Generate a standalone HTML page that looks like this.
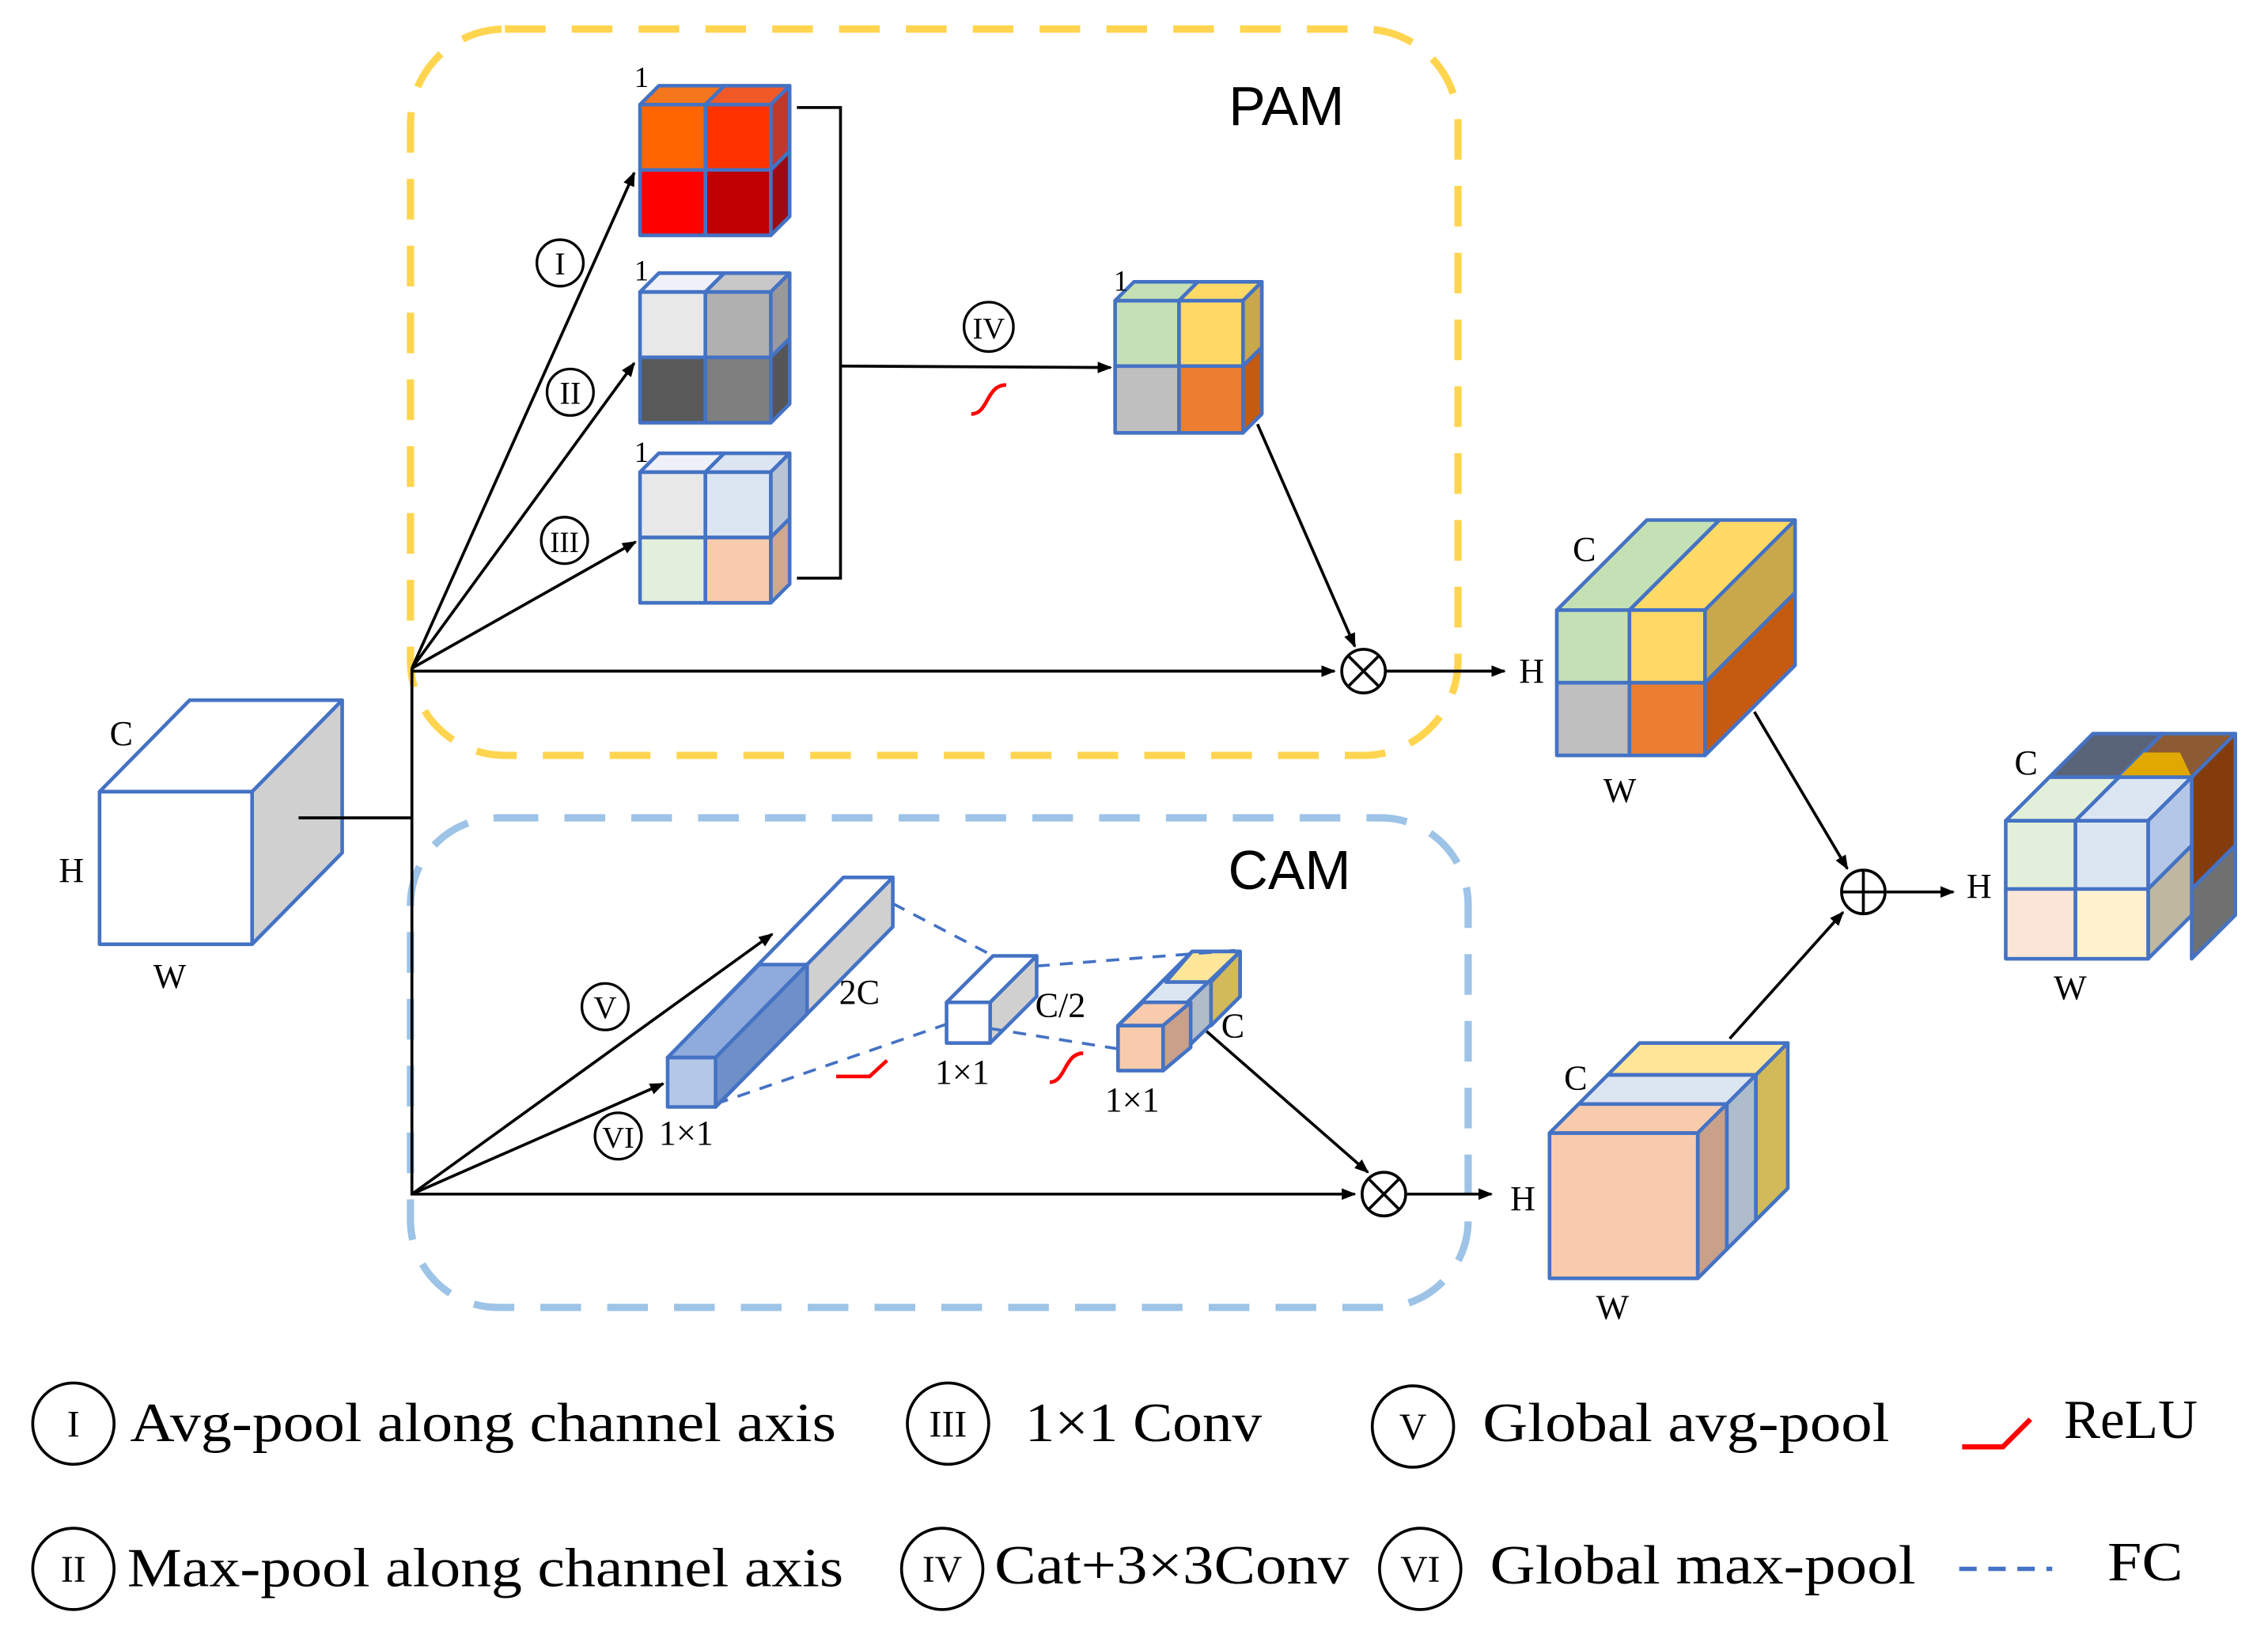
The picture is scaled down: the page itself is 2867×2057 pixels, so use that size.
<!DOCTYPE html>
<html><head><meta charset="utf-8"><style>
html,body{margin:0;padding:0;background:#fff;}
svg{display:block;}
.s{font-family:"Liberation Serif",serif;fill:#000;}
.n{font-family:"Liberation Sans",sans-serif;fill:#000;}
</style></head><body>
<svg width="2867" height="2057" viewBox="0 0 1560 1120" xmlns="http://www.w3.org/2000/svg">
<defs>
<marker id="a" markerWidth="10" markerHeight="10" refX="9" refY="5" orient="auto" markerUnits="userSpaceOnUse"><path d="M0,1 L10,5 L0,9 z" fill="#000"/></marker>
</defs>
<rect width="1560" height="1120" fill="#fff"/>
<rect x="282" y="20" width="721" height="500" rx="65" fill="none" stroke="#FFD54F" stroke-width="5" stroke-dasharray="28,18"/>
<rect x="282" y="563" width="728" height="337" rx="60" fill="none" stroke="#9DC3E6" stroke-width="5" stroke-dasharray="28,18"/>
<text x="885" y="86" class="n" font-size="38" text-anchor="middle">PAM</text>
<text x="887" y="612" class="n" font-size="38" text-anchor="middle">CAM</text>

<g stroke="#4472C4" stroke-width="2.5" stroke-linejoin="round">
<polygon points="68,545 130,482 235,482 173,545" fill="#fff"/>
<polygon points="173,545 235,482 235,587 173,650" fill="#D0D0D0"/>
<rect x="68" y="545" width="105" height="105" fill="#fff"/>

<polygon points="440,72 453,59 498,59 485,72" fill="#F4771E"/>
<polygon points="485,72 498,59 543,59 530,72" fill="#F05A28"/>
<polygon points="530,72 543,59 543,104 530,117" fill="#C0392B"/>
<polygon points="530,117 543,104 543,149 530,162" fill="#9E0B0F"/>
<rect x="440" y="72" width="45" height="45" fill="#FF6600"/>
<rect x="485" y="72" width="45" height="45" fill="#FF3300"/>
<rect x="440" y="117" width="45" height="45" fill="#FF0000"/>
<rect x="485" y="117" width="45" height="45" fill="#C00000"/>
<polygon points="440,201 453,188 498,188 485,201" fill="#EEF2F8"/>
<polygon points="485,201 498,188 543,188 530,201" fill="#C8C8C8"/>
<polygon points="530,201 543,188 543,233 530,246" fill="#999"/>
<polygon points="530,246 543,233 543,278 530,291" fill="#555"/>
<rect x="440" y="201" width="45" height="45" fill="#E8E8E8"/>
<rect x="485" y="201" width="45" height="45" fill="#B0B0B0"/>
<rect x="440" y="246" width="45" height="45" fill="#595959"/>
<rect x="485" y="246" width="45" height="45" fill="#7F7F7F"/>
<polygon points="440,325 453,312 498,312 485,325" fill="#EEF2F8"/>
<polygon points="485,325 498,312 543,312 530,325" fill="#DCE6F2"/>
<polygon points="530,325 543,312 543,357 530,370" fill="#B8C4D4"/>
<polygon points="530,370 543,357 543,402 530,415" fill="#D0A88C"/>
<rect x="440" y="325" width="45" height="45" fill="#E8E8E8"/>
<rect x="485" y="325" width="45" height="45" fill="#DCE6F2"/>
<rect x="440" y="370" width="45" height="45" fill="#E2EFDA"/>
<rect x="485" y="370" width="45" height="45" fill="#F8CBAD"/>
<polygon points="767,207 780,194 824,194 811,207" fill="#C5E0B4"/>
<polygon points="811,207 824,194 868,194 855,207" fill="#FFD966"/>
<polygon points="855,207 868,194 868,239 855,252" fill="#C9A84B"/>
<polygon points="855,252 868,239 868,285 855,298" fill="#C55A11"/>
<rect x="767" y="207" width="44" height="45" fill="#C5E0B4"/>
<rect x="811" y="207" width="44" height="45" fill="#FFD966"/>
<rect x="767" y="252" width="44" height="46" fill="#BFBFBF"/>
<rect x="811" y="252" width="44" height="46" fill="#ED7D31"/>

<polygon points="1071,420 1133,358 1183,358 1121,420" fill="#C5E0B4"/>
<polygon points="1121,420 1183,358 1235,358 1173,420" fill="#FFD966"/>
<polygon points="1173,420 1235,358 1235,408 1173,470" fill="#C9A84B"/>
<polygon points="1173,470 1235,408 1235,458 1173,520" fill="#C55A11"/>
<rect x="1071" y="420" width="50" height="50" fill="#C5E0B4"/>
<rect x="1121" y="420" width="52" height="50" fill="#FFD966"/>
<rect x="1071" y="470" width="50" height="50" fill="#BFBFBF"/>
<rect x="1121" y="470" width="52" height="50" fill="#ED7D31"/>

<polygon points="1410,535 1440,505 1488,505 1458,535" fill="#5A6478"/>
<polygon points="1458,535 1488,505 1538,505 1508,535" fill="#8C5A33"/>
<polygon points="1458,535 1475,518 1500,518 1508,535" fill="#E0A800" stroke="none"/>
<polygon points="1380,565 1410,535 1458,535 1428,565" fill="#E2EFDA"/>
<polygon points="1428,565 1458,535 1508,535 1478,565" fill="#DCE6F2"/>
<polygon points="1508,535 1538,505 1538,582 1508,612" fill="#843C0C"/>
<polygon points="1508,612 1538,582 1538,630 1508,660" fill="#707070"/>
<polygon points="1478,565 1508,535 1508,582 1478,612" fill="#B4C7E7"/>
<polygon points="1478,612 1508,582 1508,630 1478,660" fill="#BFB7A0"/>
<rect x="1380" y="565" width="48" height="47" fill="#E2EFDA"/>
<rect x="1428" y="565" width="50" height="47" fill="#DCE6F2"/>
<rect x="1380" y="612" width="48" height="48" fill="#FBE5D6"/>
<rect x="1428" y="612" width="50" height="48" fill="#FFF2CC"/>

<polygon points="1106,740 1128,718 1230,718 1208,740" fill="#FFE699"/>
<polygon points="1208,740 1230,718 1230,818 1208,840" fill="#D2B95A"/>
<rect x="1106" y="740" width="102" height="100" fill="#FFE699"/>
<polygon points="1086,760 1106,740 1208,740 1188,760" fill="#DCE6F2"/>
<polygon points="1188,760 1208,740 1208,840 1188,860" fill="#AEBCCB"/>
<polygon points="1066,780 1086,760 1188,760 1168,780" fill="#F8CBAD"/>
<polygon points="1168,780 1188,760 1188,860 1168,880" fill="#C9A08A"/>
<rect x="1066" y="780" width="102" height="100" fill="#F8CBAD"/>

<polygon points="459,728 580,604 614,604 492,728" fill="#fff"/>
<polygon points="492,728 614,604 614,638 492,762" fill="#D0D0D0"/>
<polygon points="459,728 522,664 555,664 492,728" fill="#8FAADC"/>
<polygon points="492,728 555,664 555,698 492,762" fill="#6F8FC8"/>
<rect x="459" y="728" width="33" height="34" fill="#B4C7E7"/>
<polygon points="651,690 683,658 713,658 681,690" fill="#fff"/>
<polygon points="681,690 713,658 713,686 681,718" fill="#D0D0D0"/>
<rect x="651" y="690" width="30" height="28" fill="#fff"/>
<polygon points="769,706 820,655 853,655 800,706" fill="#DCE6F2"/>
<polygon points="802,676 820,655 853,655 833,676" fill="#FFE699"/>
<polygon points="800,706 853,655 853,686 800,737" fill="#B0BCC8"/>
<polygon points="833,676 853,655 853,686 833,706" fill="#D2B95A"/>
<polygon points="769,706 786,690 819,690 800,706" fill="#F8CBAD"/>
<polygon points="800,706 819,690 819,721 800,737" fill="#C9A08A"/>
<rect x="769" y="706" width="31" height="31" fill="#F8CBAD"/>
</g>

<g stroke="#4472C4" stroke-width="2" stroke-dasharray="9,7" fill="none">
<line x1="614" y1="622" x2="683" y2="658"/>
<line x1="492" y1="760" x2="651" y2="705"/>
<line x1="713" y1="665" x2="853" y2="654"/>
<line x1="681" y1="708" x2="769" y2="722"/>
</g>

<g stroke="#000" stroke-width="2" fill="none">
<line x1="205" y1="563" x2="283" y2="563"/>
<line x1="283" y1="460" x2="283" y2="823"/>
<line x1="283" y1="460" x2="436" y2="119" marker-end="url(#a)"/>
<line x1="283" y1="460" x2="436" y2="250" marker-end="url(#a)"/>
<line x1="283" y1="460" x2="437" y2="373" marker-end="url(#a)"/>
<line x1="283" y1="462" x2="918" y2="462" marker-end="url(#a)"/>
<polyline points="548,74 578,74 578,398 548,398"/>
<line x1="578" y1="252" x2="764" y2="253" marker-end="url(#a)"/>
<line x1="865" y1="292" x2="932" y2="445" marker-end="url(#a)"/>
<line x1="954" y1="462" x2="1035" y2="462" marker-end="url(#a)"/>
<line x1="1207" y1="490" x2="1271" y2="598" marker-end="url(#a)"/>
<line x1="1190" y1="715" x2="1268" y2="628" marker-end="url(#a)"/>
<line x1="1298" y1="614" x2="1344" y2="614" marker-end="url(#a)"/>
<line x1="283" y1="822" x2="531" y2="643" marker-end="url(#a)"/>
<line x1="283" y1="822" x2="456" y2="746" marker-end="url(#a)"/>
<line x1="283" y1="822" x2="932" y2="822" marker-end="url(#a)"/>
<line x1="830" y1="710" x2="941" y2="807" marker-end="url(#a)"/>
<line x1="968" y1="822" x2="1026" y2="822" marker-end="url(#a)"/>
</g>
<g stroke="#000" stroke-width="2" fill="#fff">
<circle cx="938" cy="462" r="15"/><circle cx="952" cy="822" r="15"/><circle cx="1282" cy="614" r="15"/>
</g>
<g stroke="#000" stroke-width="2">
<line x1="927" y1="451" x2="949" y2="473"/><line x1="949" y1="451" x2="927" y2="473"/>
<line x1="941" y1="811" x2="963" y2="833"/><line x1="963" y1="811" x2="941" y2="833"/>
<line x1="1267" y1="614" x2="1297" y2="614"/><line x1="1282" y1="599" x2="1282" y2="629"/>
</g>
<g stroke="#FF0000" stroke-width="2.5" fill="none">
<path d="M668,285 C680,285 678,265 692,265"/>
<path d="M722,745 C733,745 732,725 745,725"/>
<polyline points="575,741 598,741 610,730"/>
<polyline points="1350,996 1378,996 1397,977" stroke-width="3.5"/>
</g>
<line x1="1348" y1="1080" x2="1412" y2="1080" stroke="#4472C4" stroke-width="3" stroke-dasharray="12,8"/>

<g stroke="#000" stroke-width="1.8" fill="#fff">
<circle cx="385" cy="181" r="16"/><circle cx="392" cy="270" r="16"/><circle cx="388" cy="372" r="16"/>
<circle cx="680" cy="225" r="17"/><circle cx="416" cy="693" r="16"/><circle cx="425" cy="782" r="16"/>
</g>
<g class="s" font-size="22" text-anchor="middle">
<text x="385" y="189">I</text><text x="392" y="278">II</text><text x="388" y="380" font-size="20">III</text>
<text x="680" y="233" font-size="21">IV</text><text x="416" y="701">V</text><text x="425" y="790" font-size="21">VI</text>
</g>

<g class="s" font-size="24">
<text x="436" y="60" font-size="20">1</text><text x="436" y="193" font-size="20">1</text><text x="436" y="318" font-size="20">1</text><text x="766" y="200" font-size="20">1</text>
<text x="75" y="513">C</text><text x="40" y="607">H</text><text x="105" y="680">W</text>
<text x="1082" y="386">C</text><text x="1045" y="470">H</text><text x="1103" y="552">W</text>
<text x="1386" y="533">C</text><text x="1353" y="618">H</text><text x="1413" y="688">W</text>
<text x="1076" y="750">C</text><text x="1039" y="833">H</text><text x="1098" y="908">W</text>
<text x="577" y="691">2C</text><text x="712" y="700">C/2</text><text x="840" y="714">C</text>
<text x="453" y="788">1×1</text><text x="643" y="746">1×1</text><text x="760" y="765">1×1</text>
</g>

<g stroke="#000" stroke-width="2" fill="#fff">
<circle cx="50" cy="980" r="28"/><circle cx="652" cy="980" r="28"/><circle cx="972" cy="982" r="28"/>
<circle cx="50" cy="1080" r="28"/><circle cx="648" cy="1080" r="28"/><circle cx="977" cy="1080" r="28"/>
</g>
<g class="s" font-size="26" text-anchor="middle">
<text x="50" y="989">I</text><text x="652" y="989">III</text><text x="972" y="991">V</text>
<text x="50" y="1089">II</text><text x="648" y="1089">IV</text><text x="977" y="1089">VI</text>
</g>
<g class="s" font-size="38" lengthAdjust="spacingAndGlyphs">
<text x="89" y="992" textLength="486" lengthAdjust="spacingAndGlyphs">Avg-pool along channel axis</text>
<text x="705" y="992" textLength="163" lengthAdjust="spacingAndGlyphs">1×1 Conv</text>
<text x="1020" y="992" textLength="280" lengthAdjust="spacingAndGlyphs">Global avg-pool</text>
<text x="1420" y="990" textLength="92" lengthAdjust="spacingAndGlyphs">ReLU</text>
<text x="87" y="1092" textLength="493" lengthAdjust="spacingAndGlyphs">Max-pool along channel axis</text>
<text x="684" y="1090" textLength="244" lengthAdjust="spacingAndGlyphs">Cat+3×3Conv</text>
<text x="1025" y="1090" textLength="293" lengthAdjust="spacingAndGlyphs">Global max-pool</text>
<text x="1450" y="1088" textLength="52" lengthAdjust="spacingAndGlyphs">FC</text>
</g>
</svg>
</body></html>
